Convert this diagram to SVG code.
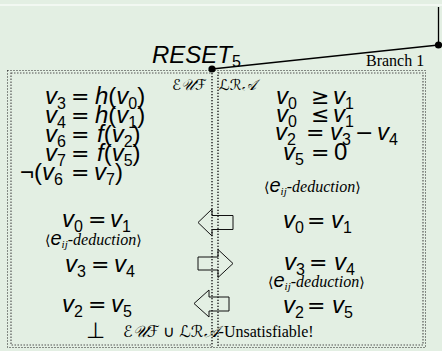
<svg xmlns="http://www.w3.org/2000/svg" width="442" height="351" viewBox="0 0 442 351">
<style>
.m{font-family:"Liberation Sans",Arial,sans-serif;font-size:24px;fill:#000}
.i{font-style:italic}
.sb{font-size:16px;font-style:normal}
.rel{font-family:"DejaVu Sans",sans-serif;font-size:22px;font-style:normal}
.r{font-family:"Liberation Serif","Times New Roman",serif;font-size:16px;fill:#000}
.ri{font-style:italic}
.up{font-style:normal;font-family:"DejaVu Sans",sans-serif;font-size:14px}
.ms{font-family:"Liberation Sans",Arial,sans-serif;font-size:20px;font-style:italic}
.ij{font-size:11px}
.cal{font-family:"DejaVu Serif","DejaVu Sans",serif;font-style:italic;fill:#000}
.dot{fill:none;stroke:#222;stroke-width:1;stroke-dasharray:1 2}
.dot2{fill:none;stroke:#555;stroke-width:1.2;stroke-dasharray:1.5 1.5}
.arr{fill:none;stroke:#111;stroke-width:1}
</style>
<rect x="0" y="0" width="442" height="351" fill="#e3efe3"/>
<line x1="0" y1="5" x2="442" y2="5" stroke="#f7fbf7" stroke-width="1.5"/>

<g id="branch">
<rect class="dot" x="7.5" y="70.5" width="418" height="277"/>
<rect class="dot2" x="11" y="73" width="201" height="272"/>
<rect class="dot2" x="218" y="73" width="205" height="272"/>
<line class="dot" x1="212" y1="70" x2="212" y2="348"/>
<line class="dot" x1="218" y1="72" x2="218" y2="348"/>
<text class="r" x="366" y="66">Branch 1</text>
</g>

<g id="connectors">
<line x1="212" y1="69" x2="438.5" y2="45" stroke="#000" stroke-width="1.3"/>
<line x1="438.5" y1="7" x2="438.5" y2="45" stroke="#000" stroke-width="1.3"/>
<circle cx="212" cy="69" r="3.6" fill="#000"/>
<circle cx="438.5" cy="45" r="3.6" fill="#000"/>
<polygon class="arr" points="198,222.5 212,209 212,215.5 233,215.5 233,229.5 212,229.5 212,236"/>
<polygon class="arr" points="198,257 218,257 218,249.5 233,263.5 218,277.5 218,270 198,270"/>
<polygon class="arr" points="194,303.5 209,290 209,297 229,297 229,311 209,311 209,317"/>
</g>

<g id="reset">
<text class="m i" x="152" y="63" font-size="23">RESET<tspan class="sb" dy="4">5</tspan></text>
</g>

<g id="euf">
<text class="cal" x="172" y="90" font-size="15">ℰ𝒰ℱ</text>
<text class="m" y="104"><tspan class="i" x="45">v</tspan><tspan class="sb" dy="5">3</tspan><tspan class="rel" x="71" dy="-5">=</tspan><tspan class="i" x="95">h</tspan>(<tspan class="i">v</tspan><tspan class="sb" dy="5">0</tspan><tspan dy="-5">)</tspan></text>
<text class="m" y="123"><tspan class="i" x="45">v</tspan><tspan class="sb" dy="5">4</tspan><tspan class="rel" x="71" dy="-5">=</tspan><tspan class="i" x="95">h</tspan>(<tspan class="i">v</tspan><tspan class="sb" dy="5">1</tspan><tspan dy="-5">)</tspan></text>
<text class="m" y="142"><tspan class="i" x="45">v</tspan><tspan class="sb" dy="5">6</tspan><tspan class="rel" x="71" dy="-5">=</tspan><tspan class="i" x="97">f</tspan>(<tspan class="i">v</tspan><tspan class="sb" dy="5">2</tspan><tspan dy="-5">)</tspan></text>
<text class="m" y="161"><tspan class="i" x="45">v</tspan><tspan class="sb" dy="5">7</tspan><tspan class="rel" x="71" dy="-5">=</tspan><tspan class="i" x="97">f</tspan>(<tspan class="i">v</tspan><tspan class="sb" dy="5">5</tspan><tspan dy="-5">)</tspan></text>
<text class="m" y="180"><tspan x="20">¬(</tspan><tspan class="i">v</tspan><tspan class="sb" dy="5">6</tspan><tspan class="rel" x="71" dy="-5">=</tspan><tspan class="i" x="94">v</tspan><tspan class="sb" dy="5">7</tspan><tspan dy="-5">)</tspan></text>

<text class="m" y="227"><tspan class="i" x="62">v</tspan><tspan class="sb" dy="5">0</tspan><tspan class="rel" x="88" dy="-5">=</tspan><tspan class="i" x="110">v</tspan><tspan class="sb" dy="5">1</tspan></text>
<text class="r ri" x="45" y="245"><tspan class="up">⟨</tspan><tspan class="ms">e</tspan><tspan class="ij" dy="3">ij</tspan><tspan dy="-3">-deduction</tspan><tspan class="up">⟩</tspan></text>
<text class="m" y="272"><tspan class="i" x="65">v</tspan><tspan class="sb" dy="5">3</tspan><tspan class="rel" x="91" dy="-5">=</tspan><tspan class="i" x="114">v</tspan><tspan class="sb" dy="5">4</tspan></text>
<text class="m" y="312"><tspan class="i" x="62">v</tspan><tspan class="sb" dy="5">2</tspan><tspan class="rel" x="88" dy="-5">=</tspan><tspan class="i" x="111">v</tspan><tspan class="sb" dy="5">5</tspan></text>
<text x="86" y="338" font-family="DejaVu Sans,sans-serif" font-size="22" fill="#000">⊥</text>
<text class="r" x="123" y="337"><tspan class="cal">ℰ𝒰ℱ</tspan> ∪ <tspan class="cal">ℒℛ𝒜</tspan>-Unsatisfiable!</text>
</g>

<g id="lra">
<text class="cal" x="219" y="90" font-size="15">ℒℛ𝒜</text>
<text class="m" y="104"><tspan class="i" x="276">v</tspan><tspan class="sb" dy="5">0</tspan><tspan class="rel" x="311" dy="-5">≥</tspan><tspan class="i" x="333">v</tspan><tspan class="sb" dy="5">1</tspan></text>
<text class="m" y="122"><tspan class="i" x="276">v</tspan><tspan class="sb" dy="5">0</tspan><tspan class="rel" x="311" dy="-5">≤</tspan><tspan class="i" x="333">v</tspan><tspan class="sb" dy="5">1</tspan></text>
<text class="m" y="140"><tspan class="i" x="275">v</tspan><tspan class="sb" dy="5">2</tspan><tspan class="rel" x="306" dy="-5">=</tspan><tspan class="i" x="330">v</tspan><tspan class="sb" dy="5">3</tspan><tspan class="rel" x="355" dy="-5">−</tspan><tspan class="i" x="377">v</tspan><tspan class="sb" dy="5">4</tspan></text>
<text class="m" y="160"><tspan class="i" x="283">v</tspan><tspan class="sb" dy="5">5</tspan><tspan class="rel" x="311" dy="-5">=</tspan><tspan x="334">0</tspan></text>
<text class="r ri" x="264" y="192"><tspan class="up">⟨</tspan><tspan class="ms">e</tspan><tspan class="ij" dy="3">ij</tspan><tspan dy="-3">-deduction</tspan><tspan class="up">⟩</tspan></text>
<text class="m" y="228"><tspan class="i" x="283">v</tspan><tspan class="sb" dy="5">0</tspan><tspan class="rel" x="307" dy="-5">=</tspan><tspan class="i" x="331">v</tspan><tspan class="sb" dy="5">1</tspan></text>
<text class="m" y="270"><tspan class="i" x="284">v</tspan><tspan class="sb" dy="5">3</tspan><tspan class="rel" x="309" dy="-5">=</tspan><tspan class="i" x="334">v</tspan><tspan class="sb" dy="5">4</tspan></text>
<text class="r ri" x="268" y="287"><tspan class="up">⟨</tspan><tspan class="ms">e</tspan><tspan class="ij" dy="3">ij</tspan><tspan dy="-3">-deduction</tspan><tspan class="up">⟩</tspan></text>
<text class="m" y="313"><tspan class="i" x="283">v</tspan><tspan class="sb" dy="5">2</tspan><tspan class="rel" x="307" dy="-5">=</tspan><tspan class="i" x="332">v</tspan><tspan class="sb" dy="5">5</tspan></text>
</g>
</svg>
